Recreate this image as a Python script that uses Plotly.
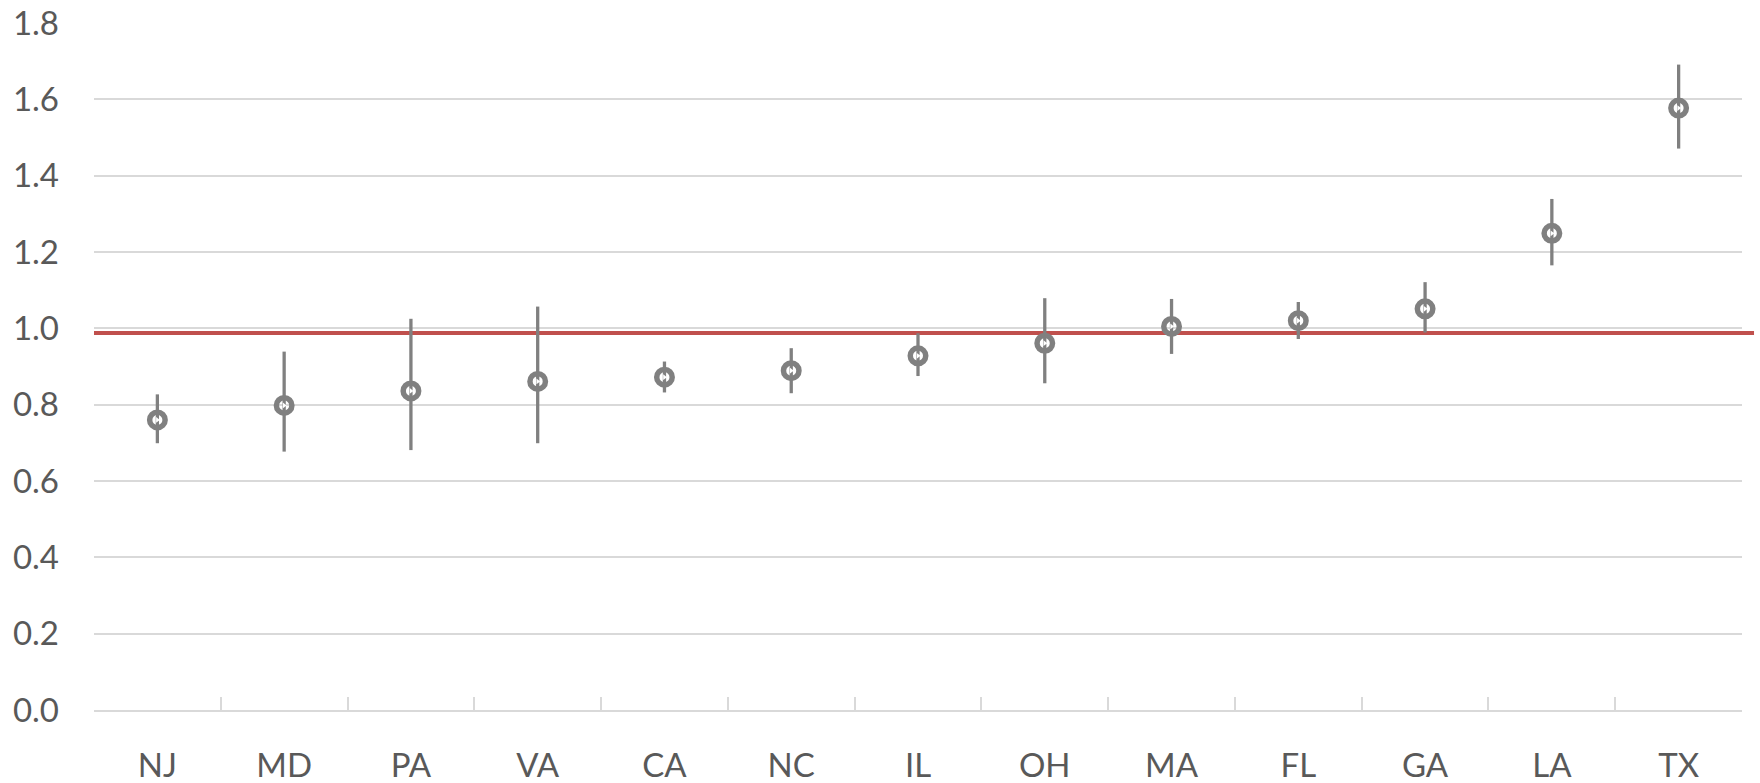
import plotly.graph_objects as go

states = ["NJ", "MD", "PA", "VA", "CA", "NC", "IL", "OH", "MA", "FL", "GA", "LA", "TX"]
values = [0.760, 0.798, 0.836, 0.861, 0.872, 0.889, 0.928, 0.961, 1.005, 1.020, 1.051, 1.249, 1.577]
lows = [0.699, 0.677, 0.681, 0.699, 0.832, 0.830, 0.875, 0.856, 0.933, 0.972, 0.989, 1.165, 1.471]
highs = [0.827, 0.939, 1.025, 1.057, 0.913, 0.948, 0.987, 1.079, 1.077, 1.069, 1.121, 1.339, 1.691]
reference_value = 0.988

GRAY = "#808080"
GRID = "#d9d9d9"
TEXT = "#595959"
RED = "#c0504d"

err_plus = [h - v for h, v in zip(highs, values)]
err_minus = [v - l for v, l in zip(values, lows)]

fig = go.Figure()
fig.add_trace(go.Scatter(
    x=states, y=values, mode="markers",
    marker=dict(symbol="circle", size=15.5, color="rgba(0,0,0,0)",
                line=dict(color=GRAY, width=5.5)),
    error_y=dict(type="data", symmetric=False, array=err_plus, arrayminus=err_minus,
                 color=GRAY, thickness=3.3, width=0),
    showlegend=False, cliponaxis=False,
))
fig.add_trace(go.Scatter(
    x=states, y=values, mode="markers",
    marker=dict(symbol="triangle-right", size=5, color="white", line=dict(width=0)),
    showlegend=False, cliponaxis=False, hoverinfo="skip",
))

fig.add_shape(type="line", xref="paper", yref="y", x0=0, x1=1.0073,
              y0=reference_value, y1=reference_value,
              line=dict(color=RED, width=4), layer="between")

fig.update_layout(
    width=1760, height=783,
    margin=dict(l=94, r=18, t=23, b=73, autoexpand=False),
    paper_bgcolor="white", plot_bgcolor="white",
    font=dict(family="Lato", size=33, color=TEXT),
    xaxis=dict(
        type="category", range=[-0.5, 12.5], automargin=False,
        showgrid=False, showline=True, linecolor=GRID, linewidth=1.5,
        ticks="inside", tickson="boundaries", ticklen=13, tickwidth=1.5, tickcolor=GRID,
        ticklabelstandoff=26, tickfont=dict(family="Lato", size=33, color=TEXT),
        zeroline=False,
    ),
    yaxis=dict(
        range=[0, 1.8], dtick=0.2, tick0=0, tickformat=".1f", automargin=False,
        showgrid=True, gridcolor=GRID, gridwidth=1.5,
        showline=False, zeroline=False, ticks="",
        ticklabelstandoff=34, tickfont=dict(family="Lato", size=33, color=TEXT),
    ),
)

fig.write_html("out.html", config={"displayModeBar": False},
               post_script="document.body.style.margin='0';document.body.style.overflow='hidden';")
